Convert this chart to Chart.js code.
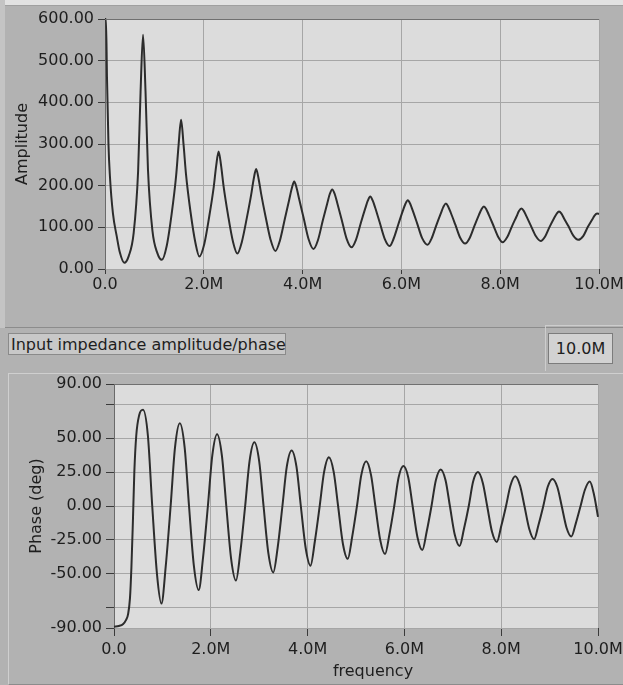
<!DOCTYPE html>
<html>
<head>
<meta charset="utf-8">
<script src="https://cdn.jsdelivr.net/npm/chart.js@4.4.0/dist/chart.umd.min.js"></script>
<style>
  html, body { margin: 0; padding: 0; background: #b2b2b2; }
  #frame { position: relative; width: 623px; height: 685px; background: #b2b2b2; overflow: hidden;
           font-family: "DejaVu Sans", sans-serif; color: #1e1e1e; }
  .abs { position: absolute; }
  canvas { position: absolute; left: 0; }
  #topStrip { left: 0; top: 0; width: 623px; height: 5px; background: #e2e2e2; }
  #leftStrip { left: 0; top: 0; width: 5px; height: 328px; background: #c4c4c4; }
  #topPanel { left: 5px; top: 5px; width: 618px; height: 321px; border-top: 1px solid #a0a0a0;
              border-bottom: 1px solid #8c8c8c; }
  #bottomPanel { left: 8px; top: 373px; width: 615px; height: 310px; border-top: 1px solid #cfcfcf;
                 border-left: 1px solid #cfcfcf; border-bottom: 1px solid #8c8c8c; }
  #caption { left: 8px; top: 333px; width: 278px; height: 22px; background: #c8c8c8;
             border: 1px solid #8a8a8a; font-size: 16px; line-height: 22px; padding-left: 2px;
             white-space: nowrap; box-sizing: border-box; }
  #freqBox { left: 548px; top: 333px; width: 65px; height: 31px; background: #d2d2d2;
             border: 1px solid #7c7c7c; box-sizing: border-box; font-size: 16px; line-height: 29px;
             text-align: center; }
  #freqFrame { left: 545px; top: 325px; width: 78px; height: 45px; border-top: 1px solid #cdcdcd;
               border-left: 1px solid #cdcdcd; }
  #freqLabel { left: 300px; top: 661px; width: 146px; text-align: center; font-size: 16px; }
</style>
</head>
<body>
<div id="frame">
  <div class="abs" id="topStrip"></div>
  <div class="abs" id="leftStrip"></div>
  <div class="abs" id="topPanel"></div>
  <div class="abs" id="bottomPanel"></div>
  <div class="abs" id="freqFrame"></div>
  <canvas id="ampChart" width="623" height="328" style="top:0"></canvas>
  <div class="abs" id="caption">Input impedance amplitude/phase</div>
  <div class="abs" id="freqBox">10.0M</div>
  <canvas id="phaseChart" width="623" height="312" style="top:373px"></canvas>
  <div class="abs" id="freqLabel">frequency</div>
</div>
<script>
// frequency in MHz
const ampFreq = [
  0.00, 0.02, 0.04, 0.07, 0.10, 0.16, 0.24, 0.30, 0.39,
  0.48, 0.58, 0.67, 0.72, 0.77, 0.82, 0.87, 0.96, 1.06, 1.15,
  1.25, 1.35, 1.44, 1.49, 1.54, 1.59, 1.64, 1.73, 1.83, 1.91,
  2.01, 2.11, 2.20, 2.25, 2.30, 2.35, 2.40, 2.49, 2.59, 2.68,
  2.77, 2.87, 2.96, 3.01, 3.06, 3.11, 3.16, 3.25, 3.35, 3.45,
  3.54, 3.64, 3.73, 3.78, 3.83, 3.88, 3.93, 4.02, 4.12, 4.22,
  4.31, 4.41, 4.50, 4.55, 4.60, 4.65, 4.70, 4.79, 4.89, 4.99,
  5.08, 5.18, 5.27, 5.32, 5.37, 5.42, 5.47, 5.56, 5.66, 5.76,
  5.84, 5.94, 6.03, 6.08, 6.13, 6.18, 6.23, 6.32, 6.42, 6.53,
  6.61, 6.71, 6.80, 6.85, 6.90, 6.95, 7.00, 7.09, 7.19, 7.29,
  7.38, 7.48, 7.57, 7.62, 7.67, 7.72, 7.77, 7.86, 7.96, 8.05,
  8.14, 8.24, 8.33, 8.38, 8.43, 8.48, 8.53, 8.62, 8.72, 8.82,
  8.91, 9.00, 9.09, 9.14, 9.19, 9.24, 9.29, 9.38, 9.48, 9.58,
  9.68, 9.77, 9.86, 9.91, 9.96, 10.00
];
const ampValues = [
  600, 600, 460, 300, 222, 134, 77, 40, 15,
  31, 86, 234, 425, 562, 427, 238, 92, 38, 22,
  56, 133, 224, 298, 358, 299, 227, 138, 63, 30,
  60, 126, 196, 247, 282, 248, 199, 130, 66, 37,
  65, 122, 179, 216, 240, 216, 181, 126, 71, 43,
  68, 120, 167, 193, 210, 194, 168, 123, 72, 48,
  69, 117, 158, 180, 191, 180, 159, 119, 73, 52,
  70, 111, 146, 164, 174, 164, 147, 112, 73, 55,
  72, 108, 140, 156, 165, 156, 140, 109, 74, 58,
  73, 106, 134, 149, 157, 149, 135, 107, 75, 61,
  74, 104, 130, 143, 150, 143, 130, 105, 77, 64,
  76, 103, 126, 139, 145, 139, 127, 104, 79, 67,
  78, 101, 122, 132, 138, 133, 122, 103, 80, 70,
  79, 100, 118, 128, 133, 132
];

const phaseFreq = [
  0.00, 0.10, 0.19, 0.25, 0.29, 0.33, 0.36, 0.39, 0.42, 0.46, 0.52,
  0.60, 0.70, 0.79, 0.89, 0.98,
  1.07, 1.17, 1.26, 1.36, 1.46, 1.55, 1.65, 1.75,
  1.84, 1.94, 2.03, 2.13, 2.23, 2.32, 2.42, 2.52,
  2.61, 2.71, 2.80, 2.90, 3.00, 3.09, 3.19, 3.29,
  3.38, 3.48, 3.57, 3.67, 3.77, 3.86, 3.96, 4.06,
  4.15, 4.25, 4.34, 4.44, 4.54, 4.63, 4.73, 4.83,
  4.92, 5.02, 5.11, 5.21, 5.31, 5.40, 5.50, 5.60,
  5.69, 5.79, 5.88, 5.98, 6.08, 6.17, 6.27, 6.37,
  6.46, 6.56, 6.65, 6.75, 6.85, 6.94, 7.04, 7.14,
  7.23, 7.33, 7.42, 7.52, 7.62, 7.71, 7.81, 7.91,
  8.00, 8.10, 8.19, 8.29, 8.39, 8.48, 8.58, 8.68,
  8.77, 8.87, 8.96, 9.06, 9.16, 9.25, 9.35, 9.45,
  9.54, 9.64, 9.73, 9.83, 9.92, 10.00
];
const phaseValues = [
  -89, -88.5, -87, -84, -80, -68, -45, -12, 25, 52, 67,
  71, 52, 0, -51, -72,
  -44, 0, 43, 61, 43, 0, -44, -62,
  -38, 0, 37, 53, 37, 0, -39, -55,
  -34, 0, 33, 47, 33, 0, -35, -49,
  -31, 0, 29, 41, 29, 0, -31, -44,
  -26, 0, 25, 36, 25, 0, -28, -39,
  -23, 0, 23, 33, 23, 0, -25, -35.5,
  -21, 0, 21, 29.5, 21, 0, -23, -32.5,
  -19, 0, 19, 27, 19, 0, -21, -29.5,
  -17, 0, 18, 25, 17, 0, -19, -26.5,
  -15, 0, 15, 22, 15, 0, -17, -24.5,
  -14, 0, 14, 20, 14, 0, -16, -22.5,
  -13, 0, 12, 18, 8, -8
];

const freqTicks = [0, 2, 4, 6, 8, 10];
const freqTickLabels = ['0.0', '2.0M', '4.0M', '6.0M', '8.0M', '10.0M'];
const ampTicks = [0, 100, 200, 300, 400, 500, 600];
const ampTickLabels = ['0.00', '100.00', '200.00', '300.00', '400.00', '500.00', '600.00'];
const phaseTicks = [-90, -75, -50, -25, 0, 25, 50, 75, 90];
const phaseTickLabels = ['-90.00', '', '-50.00', '-25.00', '0.00', '25.00', '50.00', '', '90.00'];

Chart.defaults.font.family = '"DejaVu Sans", sans-serif';
Chart.defaults.font.size = 16;
Chart.defaults.color = '#1e1e1e';

const plotArea = {
  id: 'plotArea',
  beforeDraw(chart) {
    const { ctx, chartArea: a } = chart;
    ctx.save();
    ctx.fillStyle = '#dcdcdc';
    ctx.fillRect(a.left, a.top, a.right - a.left, a.bottom - a.top);
    ctx.restore();
  },
  afterDatasetsDraw(chart) {
    const { ctx, chartArea: a } = chart;
    ctx.save();
    ctx.strokeStyle = '#707070';
    ctx.lineWidth = 1;
    ctx.beginPath();
    ctx.moveTo(a.left, a.top + 0.5);
    ctx.lineTo(a.right, a.top + 0.5);
    ctx.stroke();
    ctx.restore();
  }
};

function makeChart(id, xs, ys, cfg) {
  const points = xs.map((x, i) => ({ x: x, y: ys[i] }));
  return new Chart(document.getElementById(id), {
    type: 'line',
    data: {
      datasets: [{
        data: points,
        borderColor: '#2c2c2c',
        borderWidth: 2,
        pointRadius: 0,
        cubicInterpolationMode: 'monotone',
        clip: 2
      }]
    },
    options: {
      responsive: false,
      animation: false,
      events: [],
      layout: { padding: { top: cfg.top, right: cfg.right, left: 0, bottom: 0 } },
      plugins: { legend: { display: false }, tooltip: { enabled: false } },
      scales: {
        x: {
          type: 'linear',
          min: 0,
          max: 10,
          afterBuildTicks: s => { s.ticks = freqTicks.map(v => ({ value: v })); },
          afterFit: s => { s.height = cfg.xHeight; s.paddingLeft = 0; s.paddingRight = 0; },
          ticks: {
            maxRotation: 0,
            autoSkip: false,
            padding: cfg.xPad,
            callback: (v, i) => freqTickLabels[i]
          },
          grid: { color: '#a6a6a6', tickColor: '#3a3a3a', tickLength: cfg.xTick },
          border: { display: false }
        },
        y: {
          min: cfg.yMin,
          max: cfg.yMax,
          afterBuildTicks: s => { s.ticks = cfg.yTicks.map(v => ({ value: v })); },
          afterFit: s => { s.width = cfg.yWidth; s.paddingTop = 0; s.paddingBottom = 0; },
          ticks: {
            autoSkip: false,
            padding: cfg.yPad,
            callback: (v, i) => cfg.yLabels[i]
          },
          grid: { color: '#a6a6a6', tickColor: '#3a3a3a', tickLength: cfg.yTick },
          border: { display: true, color: '#6a6a6a', width: 1 },
          title: {
            display: true,
            text: cfg.yTitle,
            color: '#1e1e1e',
            font: { size: 16 },
            padding: { top: cfg.titlePad, bottom: 0 }
          }
        }
      }
    },
    plugins: [plotArea]
  });
}

makeChart('ampChart', ampFreq, ampValues, {
  top: 19, right: 24, xHeight: 59, yWidth: 105,
  xTick: 5, xPad: 1, yTick: 7, yPad: 4,
  yMin: 0, yMax: 600, yTicks: ampTicks, yLabels: ampTickLabels,
  yTitle: 'Amplitude', titlePad: 13
});

makeChart('phaseChart', phaseFreq, phaseValues, {
  top: 11, right: 25, xHeight: 57, yWidth: 114,
  xTick: 8, xPad: 4, yTick: 8, yPad: 4,
  yMin: -90, yMax: 90, yTicks: phaseTicks, yLabels: phaseTickLabels,
  yTitle: 'Phase (deg)', titlePad: 27
});
</script>
</body>
</html>
